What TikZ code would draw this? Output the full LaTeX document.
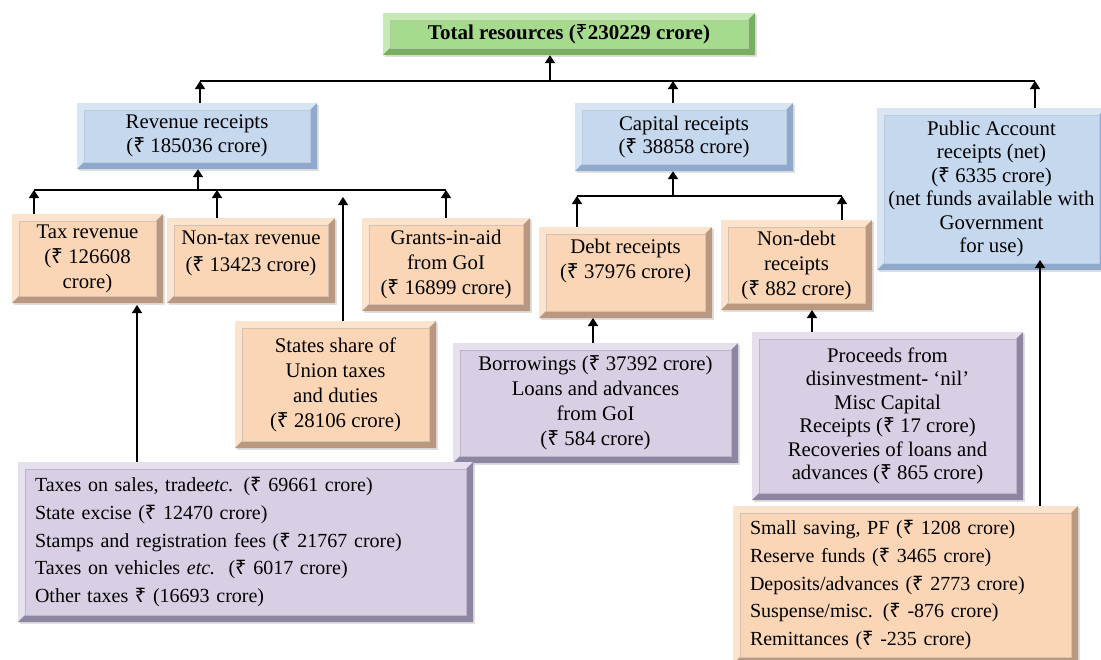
\documentclass[tikz,border=0pt]{standalone}
\usepackage{fontspec}
\setmainfont{Liberation Serif}
\newfontfamily\rupeefont{Noto Sans}
\usetikzlibrary{arrows.meta,shadows}
\definecolor{blueM}{HTML}{C6D8EE}
\definecolor{blueL}{HTML}{D9E5F3}
\definecolor{blueD}{HTML}{8EA9CC}
\definecolor{peachM}{HTML}{FBD6B6}
\definecolor{peachL}{HTML}{FCE3CD}
\definecolor{peachD}{HTML}{B9987F}
\definecolor{purpM}{HTML}{D8CFE4}
\definecolor{purpL}{HTML}{E6E0EE}
\definecolor{purpD}{HTML}{8E85A2}
\definecolor{greenM}{HTML}{A6DA8C}
\definecolor{greenL}{HTML}{C6E9B6}
\definecolor{greenD}{HTML}{77AE60}
\tikzset{
  bevelbox/.style n args={3}{draw=none, fill=#1, inner sep=0pt, align=center,
    drop shadow={shadow xshift=1.5pt, shadow yshift=-1.5pt, opacity=0.25, fill=black!50},
    path picture={
      \path (path picture bounding box.south west) coordinate (pSW)
            (path picture bounding box.north east) coordinate (pNE)
            (pSW |- pNE) coordinate (pNW)
            (pNE |- pSW) coordinate (pSE);
      \fill[#2] (pSW) -- (pNW) -- (pNE) -- ([shift={(-7pt,-7pt)}]pNE) -- ([shift={(7pt,-7pt)}]pNW) -- ([shift={(7pt,7pt)}]pSW) -- cycle;
      \fill[#3] (pSW) -- (pSE) -- (pNE) -- ([shift={(-7pt,-7pt)}]pNE) -- ([shift={(-7pt,7pt)}]pSE) -- ([shift={(7pt,7pt)}]pSW) -- cycle;
      \draw[#3!60!white, line width=0.6pt] ([shift={(7pt,7pt)}]pSW) rectangle ([shift={(-7pt,-7pt)}]pNE);
    }},
  bluebox/.style={bevelbox={blueM}{blueL}{blueD}},
  peachbox/.style={bevelbox={peachM}{peachL}{peachD}},
  purpbox/.style={bevelbox={purpM}{purpL}{purpD}},
  greenbox/.style={bevelbox={greenM}{greenL}{greenD}},
  conn/.style={line width=1.6pt, black},
  arr/.style={conn, -{Triangle[length=8pt,width=10pt]}},
  thinarr/.style={line width=1.1pt, black, -{Triangle[length=8pt,width=10pt]}},
  fa/.style={font=\fontsize{20.8}{23.5}\selectfont},
  fb/.style={font=\fontsize{20.8}{25}\selectfont},
  fl/.style={font=\fontsize{20}{27.7}\selectfont},
}
\newcommand{\Rs}{{\rupeefont ₹}}
\begin{document}
\begin{tikzpicture}[x=1pt,y=-1pt]
\useasboundingbox (0,0) rectangle (1101,659);
% level 0
\node[greenbox, minimum width=372pt, minimum height=42pt, font=\fontsize{21}{24}\selectfont\bfseries] (title) at (569,34) {Total resources (\Rs230229 crore)};
% level 1
\node[bluebox, fa, minimum width=240pt, minimum height=66pt] (rev) at (197,136) {Revenue receipts\\(\Rs\ 185036 crore)};
\node[bluebox, fa, minimum width=218pt, minimum height=68pt] (cap) at (684,137) {Capital receipts\\(\Rs\ 38858 crore)};
\node[bluebox, fa, minimum width=229pt, minimum height=162pt] (pub) at (991.5,189) {Public Account\\receipts (net)\\(\Rs\ 6335 crore)\\(net funds available with\\Government\\for use)};
% level 2
\node[peachbox, fb, minimum width=151pt, minimum height=89pt] (tax) at (87.5,258.5) {Tax revenue\\(\Rs\ 126608\\crore)};
\node[peachbox, font=\fontsize{20.8}{27}\selectfont, text depth=18pt, minimum width=168pt, minimum height=85pt] (nontax) at (251,260.5) {Non-tax revenue\\(\Rs\ 13423 crore)};
\node[peachbox, fb, minimum width=168pt, minimum height=93pt] (grants) at (446,264.5) {Grants-in-aid\\from GoI\\(\Rs\ 16899 crore)};
\node[peachbox, fb, minimum width=201pt, minimum height=127pt] (states) at (335.5,384.5) {States share of\\Union taxes\\and duties\\(\Rs\ 28106 crore)};
\node[peachbox, fb, text depth=28pt, minimum width=173pt, minimum height=91pt] (debt) at (625.5,272.5) {Debt receipts\\(\Rs\ 37976 crore)};
\node[peachbox, fb, minimum width=151pt, minimum height=90pt] (nondebt) at (796.5,265) {Non-debt\\receipts\\(\Rs\ 882 crore)};
% level 3
\node[purpbox, fb, minimum width=285pt, minimum height=120pt] (borrow) at (595.5,403) {Borrowings (\Rs\ 37392 crore)\\Loans and advances\\from GoI\\(\Rs\ 584 crore)};
\node[purpbox, fa, minimum width=271pt, minimum height=168pt] (ndd) at (887.5,416) {Proceeds from\\disinvestment- ‘nil’\\Misc Capital\\Receipts (\Rs\ 17 crore)\\Recoveries of loans and\\advances (\Rs\ 865 crore)};
\node[purpbox, fl, align=left, inner xsep=17pt, text width=421pt, minimum height=160pt] (taxd) at (245.5,542) {Taxes on sales, trade\textit{etc.} (\Rs\ 69661 crore)\\State excise (\Rs\ 12470 crore)\\Stamps and registration fees (\Rs\ 21767 crore)\\Taxes on vehicles \textit{etc.}\ \ (\Rs\ 6017 crore)\\Other taxes \Rs\ (16693 crore)};
\node[peachbox, fl, align=left, inner xsep=17pt, text width=311pt, minimum height=158pt] (pubd) at (905.5,585) {Small saving, PF (\Rs\ 1208 crore)\\Reserve funds (\Rs\ 3465 crore)\\Deposits/advances (\Rs\ 2773 crore)\\Suspense/misc. (\Rs\ -876 crore)\\Remittances (\Rs\ -235 crore)};
% connectors
\coordinate (tbL) at (200,81);
\coordinate (tbR) at (1035,81);
\coordinate (tbT) at (550,81);
\coordinate (rbL) at (34,190);
\coordinate (rbR) at (446,190);
\coordinate (rbM) at (198,190);
\coordinate (cbL) at (577,196);
\coordinate (cbR) at (842,196);
\coordinate (cbM) at (673,196);
\draw[conn] (tbL) -- (tbR);
\draw[arr] (tbT) -- (tbT |- title.south);
\draw[arr] (rev.north -| tbL) -- (tbL);
\draw[arr] (673,103) -- (673,81);
\draw[arr] (pub.north -| tbR) -- (tbR);
\draw[conn] (rbL) -- (rbR);
\draw[arr] (rbM) -- (rbM |- rev.south);
\draw[arr] (tax.north -| rbL) -- (rbL);
\draw[arr] (217,218) -- (217,190);
\draw[arr] (grants.north -| rbR) -- (rbR);
\draw[arr] (states.north -| 343,0) -- (343,197);
\draw[conn] (cbL) -- (cbR);
\draw[arr] (cbM) -- (cbM |- cap.south);
\draw[arr] (debt.north -| cbL) -- (cbL);
\draw[arr] (nondebt.north -| cbR) -- (cbR);
\draw[arr] (borrow.north -| 593,0) -- (593,318);
\draw[arr] (ndd.north -| 812,0) -- (812,310);
\draw[thinarr] (taxd.north -| 137,0) -- (137,305);
\draw[thinarr] (pubd.north -| 1040,0) -- (1040,260);
\end{tikzpicture}
\end{document}
